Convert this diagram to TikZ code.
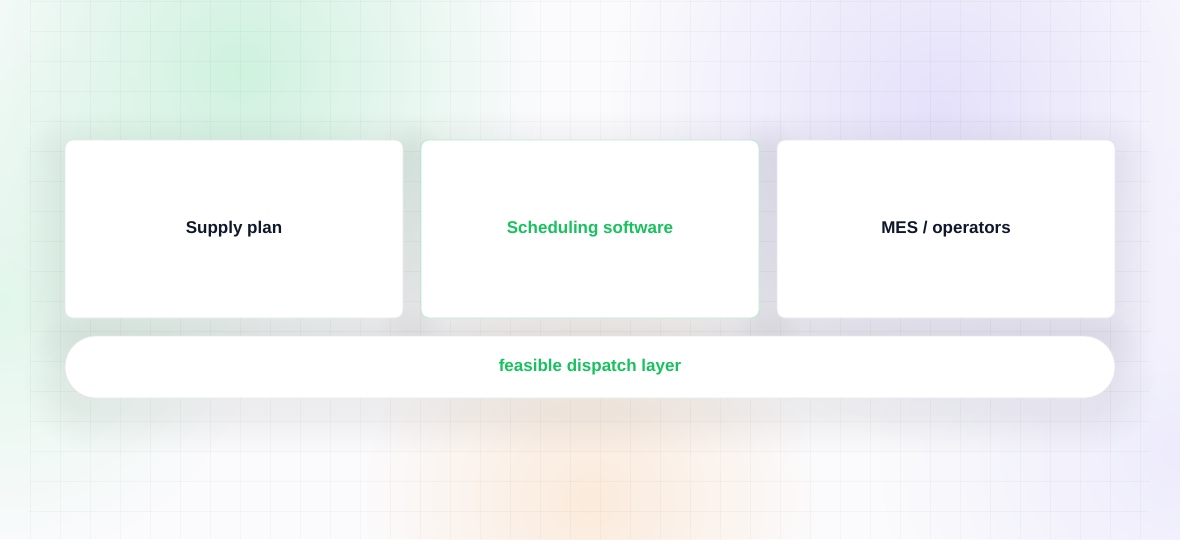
\documentclass[tikz,border=0pt]{standalone}
\usepackage{fontspec}
\setmainfont{Liberation Sans}
\usetikzlibrary{fadings}
\definecolor{navy}{HTML}{0F172A}
\definecolor{brand}{HTML}{17C25E}
\definecolor{cardline}{HTML}{E4E7EC}
\definecolor{brandline}{HTML}{B5ECCF}
\definecolor{bgbase}{HTML}{FBFBFD}
\definecolor{blobgreen}{HTML}{CFF2DF}
\definecolor{blobgreenlite}{HTML}{E2F7EB}
\definecolor{blobpurple}{HTML}{E5E1FB}
\definecolor{blobpurplelite}{HTML}{EEECFC}
\definecolor{bloborange}{HTML}{FBEBDC}
\definecolor{shadowtint}{HTML}{1E2340}
\tikzfading[name=softfade, inner color=transparent!0, outer color=transparent!100]
% soft shadow: stacked translucent rounded rectangles
\newcommand\softshadow[5]{%
  \foreach \ss in {1,...,14}{%
    \fill[shadowtint, fill opacity=0.0055, rounded corners={#5+3*\ss}]
      ({#1-3*\ss},{#2-14+3*\ss}) rectangle ({#3+3*\ss},{#4-14-3*\ss});
  }%
}
\begin{document}
\begin{tikzpicture}[x=1pt,y=1pt,
  card/.style={draw=cardline, line width=0.8pt, fill=white, rounded corners=8pt,
    minimum width=338pt, minimum height=178pt, inner sep=0pt,
    font=\bfseries\fontsize{17}{20}\selectfont, text=navy},
  brandcard/.style={card, draw=brandline, text=brand},
  pill/.style={draw=cardline, line width=0.8pt, fill=white, rounded corners=31pt,
    minimum width=1050pt, minimum height=62pt, inner sep=0pt,
    font=\bfseries\fontsize{17}{20}\selectfont, text=brand},
  blob/.style={fill=#1, path fading=softfade},
  gridline/.style={draw=black, opacity=0.028, line width=0.8pt}]
\useasboundingbox (0,0) rectangle (1180,-539);
\fill[bgbase] (0,0) rectangle (1180,-539);
% background glows
\fill[blob=blobgreenlite] (0,-300) circle (260);
\fill[blob=blobgreen] (240,-70) circle (300);
\fill[blob=blobpurple] (940,-110) circle (330);
\fill[blob=blobpurplelite] (1180,-450) circle (300);
\fill[blob=bloborange] (590,-500) circle (230);
% grid
\foreach \gx in {30,60,...,1150} \draw[gridline] (\gx,0) -- (\gx,-539);
\foreach \gy in {1,31,...,539} \draw[gridline] (30,-\gy) -- (1150,-\gy);
% shadows
\softshadow{65}{-140}{403}{-318}{8}
\softshadow{421}{-140}{759}{-318}{8}
\softshadow{777}{-140}{1115}{-318}{8}
\softshadow{65}{-336}{1115}{-398}{31}
% cards
\node[card] (supply) at (234,-229) {\raisebox{-2pt}{Supply plan}};
\node[brandcard] (sched) at (590,-229) {\raisebox{-2pt}{Scheduling software}};
\node[card] (mes) at (946,-229) {\raisebox{-2pt}{MES / operators}};
\node[pill] (layer) at (590,-367) {\raisebox{-2pt}{feasible dispatch layer}};
\end{tikzpicture}
\end{document}
